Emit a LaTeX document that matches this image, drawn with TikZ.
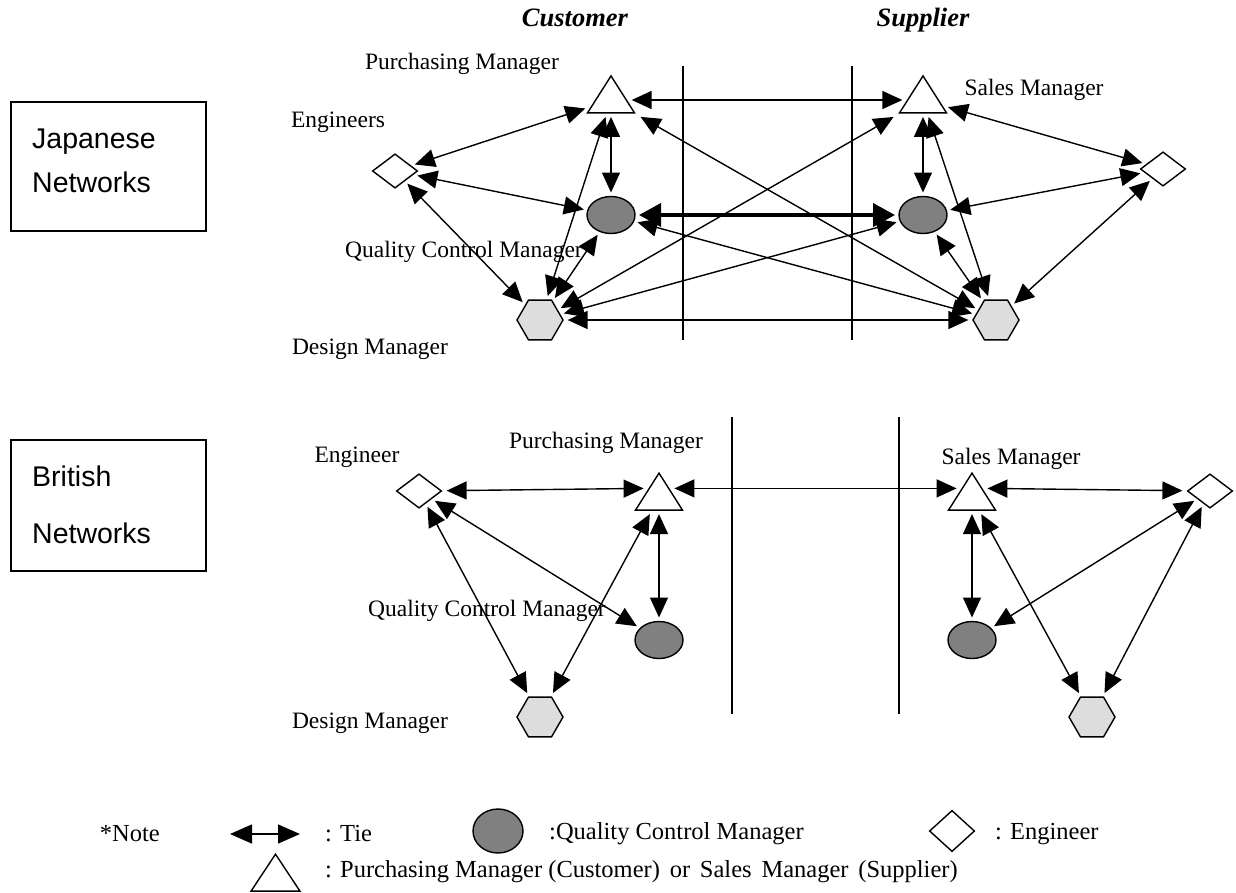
\documentclass[tikz,border=0pt]{standalone}
\usepackage{fontspec}
\setmainfont{Liberation Serif}
\newfontfamily\boxfont{Liberation Sans}
\usetikzlibrary{shapes.geometric,arrows.meta}
\definecolor{qcmgray}{HTML}{808080}
\definecolor{dmgray}{HTML}{DDDDDD}
\tikzset{
  tie/.style={line width=1.4pt,
    {Triangle[length=20pt,width=18pt]}-{Triangle[length=20pt,width=18pt]}},
  strongtie/.style={line width=4pt,
    {Triangle[length=22pt,width=23pt]}-{Triangle[length=22pt,width=23pt]}},
  pm/.style={isosceles triangle, isosceles triangle stretches, shape border rotate=90,
    minimum width=47pt, minimum height=37pt, inner sep=0pt, draw, line width=1.4pt,
    fill=white, outer sep=4pt},
  eng/.style={diamond, minimum width=48pt, minimum height=37pt, inner sep=0pt,
    draw, line width=1.4pt, fill=white, outer sep=4pt},
  qcm/.style={ellipse, minimum width=48pt, minimum height=37pt, inner sep=0pt,
    draw, line width=1.4pt, fill=qcmgray, outer sep=4pt},
  dm/.style={regular polygon, regular polygon sides=6, minimum size=46pt, inner sep=0pt,
    draw, line width=1.4pt, fill=dmgray, outer sep=4pt},
  lbl/.style={font=\fontsize{23.5}{27}\selectfont, inner sep=0pt},
  key/.style={font=\fontsize{24.5}{29}\selectfont, inner sep=0pt},
  head/.style={font=\fontsize{26.5}{30}\selectfont\bfseries\itshape, inner sep=0pt, anchor=base},
  boxtxt/.style={font=\boxfont\fontsize{28.5}{34}\selectfont, inner sep=0pt, anchor=base west},
  frame/.style={draw, line width=1.4pt, inner sep=0pt},
  divider/.style={line width=1.4pt},
}
\newcommand\wsp{\hspace{0.4em}}
\begin{document}
\begin{tikzpicture}[x=1pt,y=-1pt]
\useasboundingbox (0,0) rectangle (1236,892);

% headings
\node[head] (hcust) at (575,26) {Customer};
\node[head] (hsupp) at (923,26) {Supplier};

% network name boxes
\node[frame, minimum width=195pt, minimum height=129pt] (jbox) at (108.5,166.5) {};
\node[boxtxt] (jbox1) at (32,148) {Japanese};
\node[boxtxt] (jbox2) at (32,192) {Networks};
\node[frame, minimum width=195pt, minimum height=131pt] (bbox) at (108.5,505.5) {};
\node[boxtxt] (bbox1) at (32,486) {British};
\node[boxtxt] (bbox2) at (32,543) {Networks};

% ---------------- Japanese networks ----------------
\draw[divider] (683,66) -- (683,340);
\draw[divider] (852,66) -- (852,340);

\node[pm]  (jcPM)  at (611,100) {};
\node[eng] (jcEng) at (395,171) {};
\node[qcm] (jcQCM) at (611,215) {};
\node[dm]  (jcDM)  at (540,320) {};
\node[pm]  (jsPM)  at (923,100) {};
\node[eng] (jsEng) at (1163,169) {};
\node[qcm] (jsQCM) at (923,215) {};
\node[dm]  (jsDM)  at (996,320) {};

\node[lbl] (ljPM)  at (462,64)  {Purchasing Manager};
\node[lbl] (ljEng) at (338,122) {Engineers};
\node[lbl] (ljSM)  at (1034,90) {Sales Manager};
\node[lbl] (ljQCM) at (464,252) {Quality Control Manager};
\node[lbl] (ljDM)  at (370,349) {Design Manager};

% customer side
\draw[tie] (jcEng) -- (jcPM);
\draw[tie] (jcEng) -- (jcQCM);
\draw[tie] (jcEng) -- (jcDM);
\draw[tie] (jcPM) -- (jcQCM);
\draw[tie] (jcPM) -- (jcDM);
\draw[tie] (jcQCM) -- (jcDM);
% across the boundary
\draw[tie] (jcPM) -- (jsPM);
\draw[strongtie] (jcQCM) -- (jsQCM);
\draw[tie] (jcDM) -- (jsDM);
\draw[tie] (jcPM) -- (jsDM);
\draw[tie] (jsPM) -- (jcDM);
\draw[tie] (jcQCM) -- (jsDM);
\draw[tie] (jsQCM) -- (jcDM);
% supplier side
\draw[tie] (jsPM) -- (jsEng);
\draw[tie] (jsQCM) -- (jsEng);
\draw[tie] (jsDM) -- (jsEng);
\draw[tie] (jsPM) -- (jsQCM);
\draw[tie] (jsPM) -- (jsDM);
\draw[tie] (jsQCM) -- (jsDM);

% ---------------- British networks ----------------
\draw[divider] (732,417) -- (732,714);
\draw[divider] (899,417) -- (899,714);

\node[pm]  (bcPM)  at (659,497.2) {};
\node[eng] (bcEng) at (419,491) {};
\node[qcm] (bcQCM) at (659,640) {};
\node[dm]  (bcDM)  at (540,717) {};
\node[pm]  (bsPM)  at (972,497.2) {};
\node[eng] (bsEng) at (1210,491) {};
\node[qcm] (bsQCM) at (972,640) {};
\node[dm]  (bsDM)  at (1092,717) {};

\node[lbl] (lbPM)  at (606,443) {Purchasing Manager};
\node[lbl] (lbEng) at (357,457) {Engineer};
\node[lbl] (lbSM)  at (1011,459) {Sales Manager};
\node[lbl] (lbQCM) at (487,611) {Quality Control Manager};
\node[lbl] (lbDM)  at (370,723) {Design Manager};

\draw[tie] (bcEng) -- (bcPM.left side);
\draw[tie] (bcEng) -- (bcQCM);
\draw[tie] (bcEng) -- (bcDM);
\draw[tie] (bcPM) -- (bcDM);
\draw[tie] (bcPM) -- (bcQCM);
\draw[tie] (bcPM.right side) -- (bsPM.left side);
\draw[tie] (bsPM.right side) -- (bsEng);
\draw[tie] (bsEng) -- (bsQCM);
\draw[tie] (bsEng) -- (bsDM);
\draw[tie] (bsPM) -- (bsDM);
\draw[tie] (bsPM) -- (bsQCM);

% ---------------- legend ----------------
\node[key, anchor=east] (nNote) at (160,834) {*Note};
\coordinate (tieL) at (230,834);
\coordinate (tieR) at (300,834);
\draw[line width=1.4pt, {Triangle[length=22pt,width=19pt]}-{Triangle[length=22pt,width=19pt]}] (tieL) -- (tieR);
\node[key, anchor=west] (nTie) at (325,834) {: Tie};
\node[qcm, minimum width=50pt, minimum height=44pt] (kQCM) at (498,831) {};
\node[key, anchor=west] (nQCM) at (549,834) {:Quality Control Manager};
\node[eng, minimum height=44pt] (kEng) at (952,831) {};
\node[key, anchor=west] (nEng) at (995,834) {: Engineer};
\node[pm, minimum width=49pt] (kPM) at (275.5,878) {};
\node[key, anchor=west] (nPM) at (325,872) {: Purchasing Manager (Customer)\wsp or\wsp Sales\wsp Manager\wsp (Supplier)};
\end{tikzpicture}
\end{document}
